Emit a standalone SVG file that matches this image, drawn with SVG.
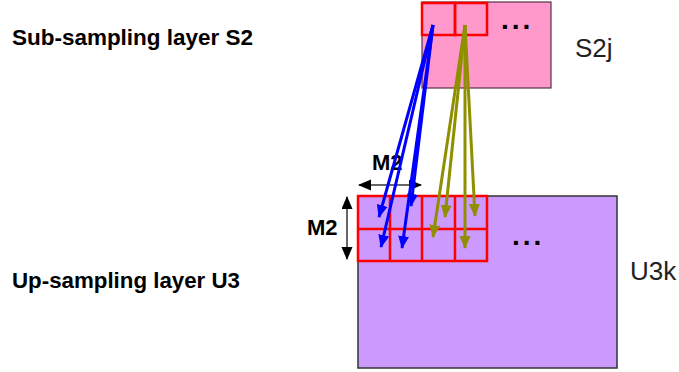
<svg xmlns="http://www.w3.org/2000/svg" width="679" height="372" viewBox="0 0 679 372">
<style>
.lbl{font-family:"Liberation Sans",Arial,sans-serif;font-weight:bold;font-size:22px;fill:#000}
.m2{font-family:"Liberation Sans",Arial,sans-serif;font-weight:bold;font-size:22px;fill:#000}
.nm{font-family:"Liberation Sans",Arial,sans-serif;font-size:26px;fill:#222}
.dots{font-family:"Liberation Sans",Arial,sans-serif;font-weight:bold;font-size:28px;fill:#000;letter-spacing:3px}
.cell{fill:none;stroke:#ff0000;stroke-width:2.5}
.blue{stroke:#0000ff;stroke-width:3;fill:none;marker-end:url(#ab)}
.olive{stroke:#8f8f00;stroke-width:3;fill:none;marker-end:url(#ao)}
.dim{stroke:#333;stroke-width:1.5;fill:none;marker-start:url(#ak);marker-end:url(#ak)}
</style>
<defs>
<marker id="ab" markerUnits="userSpaceOnUse" markerWidth="15" markerHeight="13" refX="12" refY="5.5" orient="auto"><path d="M0,0 L13,5.5 L0,11 z" fill="#0000ff"/></marker>
<marker id="ao" markerUnits="userSpaceOnUse" markerWidth="15" markerHeight="13" refX="12" refY="5.5" orient="auto"><path d="M0,0 L13,5.5 L0,11 z" fill="#8f8f00"/></marker>
<marker id="ak" markerUnits="userSpaceOnUse" markerWidth="15" markerHeight="13" refX="12" refY="5.5" orient="auto-start-reverse"><path d="M0,0 L13,5.5 L0,11 z" fill="#000"/></marker>
</defs>
<rect width="679" height="372" fill="#fff"/>
<text class="lbl" x="12" y="45" textLength="241" lengthAdjust="spacingAndGlyphs">Sub-sampling layer S2</text>
<text class="lbl" x="12" y="288" textLength="228" lengthAdjust="spacingAndGlyphs">Up-sampling layer U3</text>
<g id="S2j">
<rect x="422" y="2" width="129" height="86" fill="#ff99cc" stroke="#553344" stroke-width="1.2"/>
<rect class="cell" x="422" y="3" width="33" height="32"/>
<rect class="cell" x="455" y="3" width="32" height="32"/>
<text class="dots" x="501" y="29">...</text>
<text class="nm" x="575" y="57">S2j</text>
</g>
<g id="U3k">
<rect x="358" y="196" width="259" height="172" fill="#cc99ff" stroke="#333" stroke-width="1.5"/>
<g class="cell">
<rect x="358" y="196" width="129" height="65"/>
<line x1="358" y1="229" x2="487" y2="229"/>
<line x1="390" y1="196" x2="390" y2="261"/>
<line x1="422" y1="196" x2="422" y2="261"/>
<line x1="455" y1="196" x2="455" y2="261"/>
</g>
<text class="dots" x="512" y="245">...</text>
<text class="nm" x="630" y="280">U3k</text>
</g>
<g id="M2">
<line class="dim" x1="359" y1="185" x2="421" y2="185"/>
<line class="dim" x1="347" y1="197" x2="347" y2="259"/>
<text class="m2" x="372" y="170">M2</text>
<text class="m2" x="307" y="235">M2</text>
</g>
<g id="connectors">
<line class="blue" x1="433" y1="25" x2="379" y2="217"/>
<line class="blue" x1="433" y1="25" x2="411" y2="206"/>
<line class="blue" x1="433" y1="25" x2="381" y2="247"/>
<line class="blue" x1="433" y1="25" x2="402" y2="248"/>
<line class="olive" x1="465" y1="25" x2="433" y2="237"/>
<line class="olive" x1="465" y1="25" x2="445" y2="217"/>
<line class="olive" x1="465" y1="25" x2="465" y2="248"/>
<line class="olive" x1="465" y1="25" x2="475" y2="216"/>
</g>
</svg>
